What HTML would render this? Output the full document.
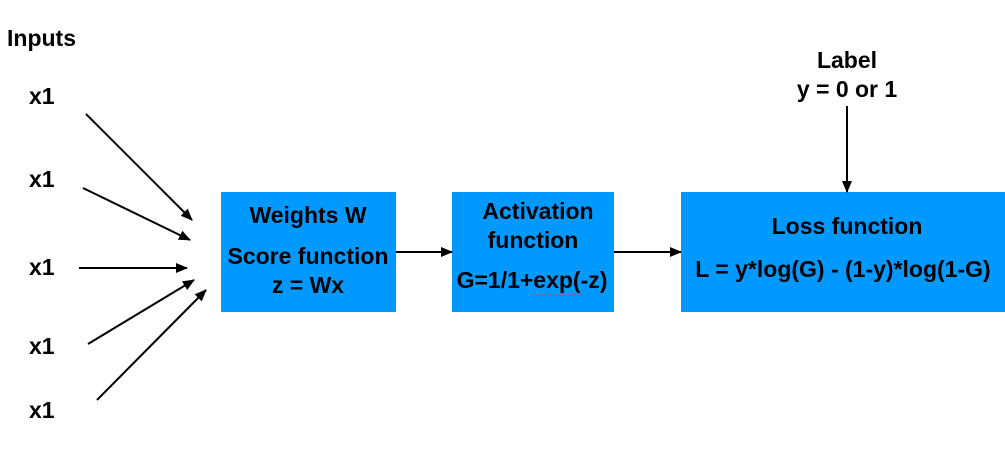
<!DOCTYPE html>
<html><head><style>body{margin:0;background:#fff}svg{display:block}text{font-family:"Liberation Sans",Arial,sans-serif;font-weight:bold;font-size:23px;fill:#000}</style></head>
<body><svg width="1005" height="456" xmlns="http://www.w3.org/2000/svg">
<defs><marker id="a" markerWidth="12" markerHeight="10" refX="11" refY="5" orient="auto" markerUnits="userSpaceOnUse"><path d="M0,0 L12,5 L0,10 z" fill="#000"/></marker></defs>
<rect x="221" y="192" width="175" height="120" fill="#0099ff"/>
<rect x="452" y="192" width="162" height="120" fill="#0099ff"/>
<rect x="681" y="192" width="324" height="120" fill="#0099ff"/>
<g stroke="#000" stroke-width="2" marker-end="url(#a)">
<line x1="86" y1="114" x2="192" y2="220"/>
<line x1="83" y1="188" x2="190" y2="240"/>
<line x1="79" y1="268" x2="187" y2="268"/>
<line x1="88" y1="344" x2="194" y2="280"/>
<line x1="97" y1="400" x2="206" y2="290"/>
<line x1="396" y1="252" x2="452" y2="252"/>
<line x1="614" y1="252" x2="681" y2="252"/>
<line x1="847" y1="106" x2="847" y2="192"/>
</g>
<text x="7" y="46">Inputs</text>
<text x="29" y="104">x1</text>
<text x="29" y="187">x1</text>
<text x="29" y="275">x1</text>
<text x="29" y="354">x1</text>
<text x="29" y="418">x1</text>
<g text-anchor="middle">
<text x="308" y="223">Weights W</text>
<text x="308" y="264">Score function</text>
<text x="308" y="293">z = Wx</text>
<text x="538" y="219">Activation</text>
<text x="533" y="248">function</text>
<text x="532" y="288">G=1/1+exp(-z)</text>
<text x="847" y="234">Loss function</text>
<text x="843" y="277">L = y*log(G) - (1-y)*log(1-G)</text>
<text x="847" y="68">Label</text>
<text x="847" y="97">y = 0 or 1</text>
</g>
<line x1="535" y1="295" x2="582" y2="295" stroke="#e33" stroke-width="1" stroke-dasharray="2,1"/>
</svg></body></html>
